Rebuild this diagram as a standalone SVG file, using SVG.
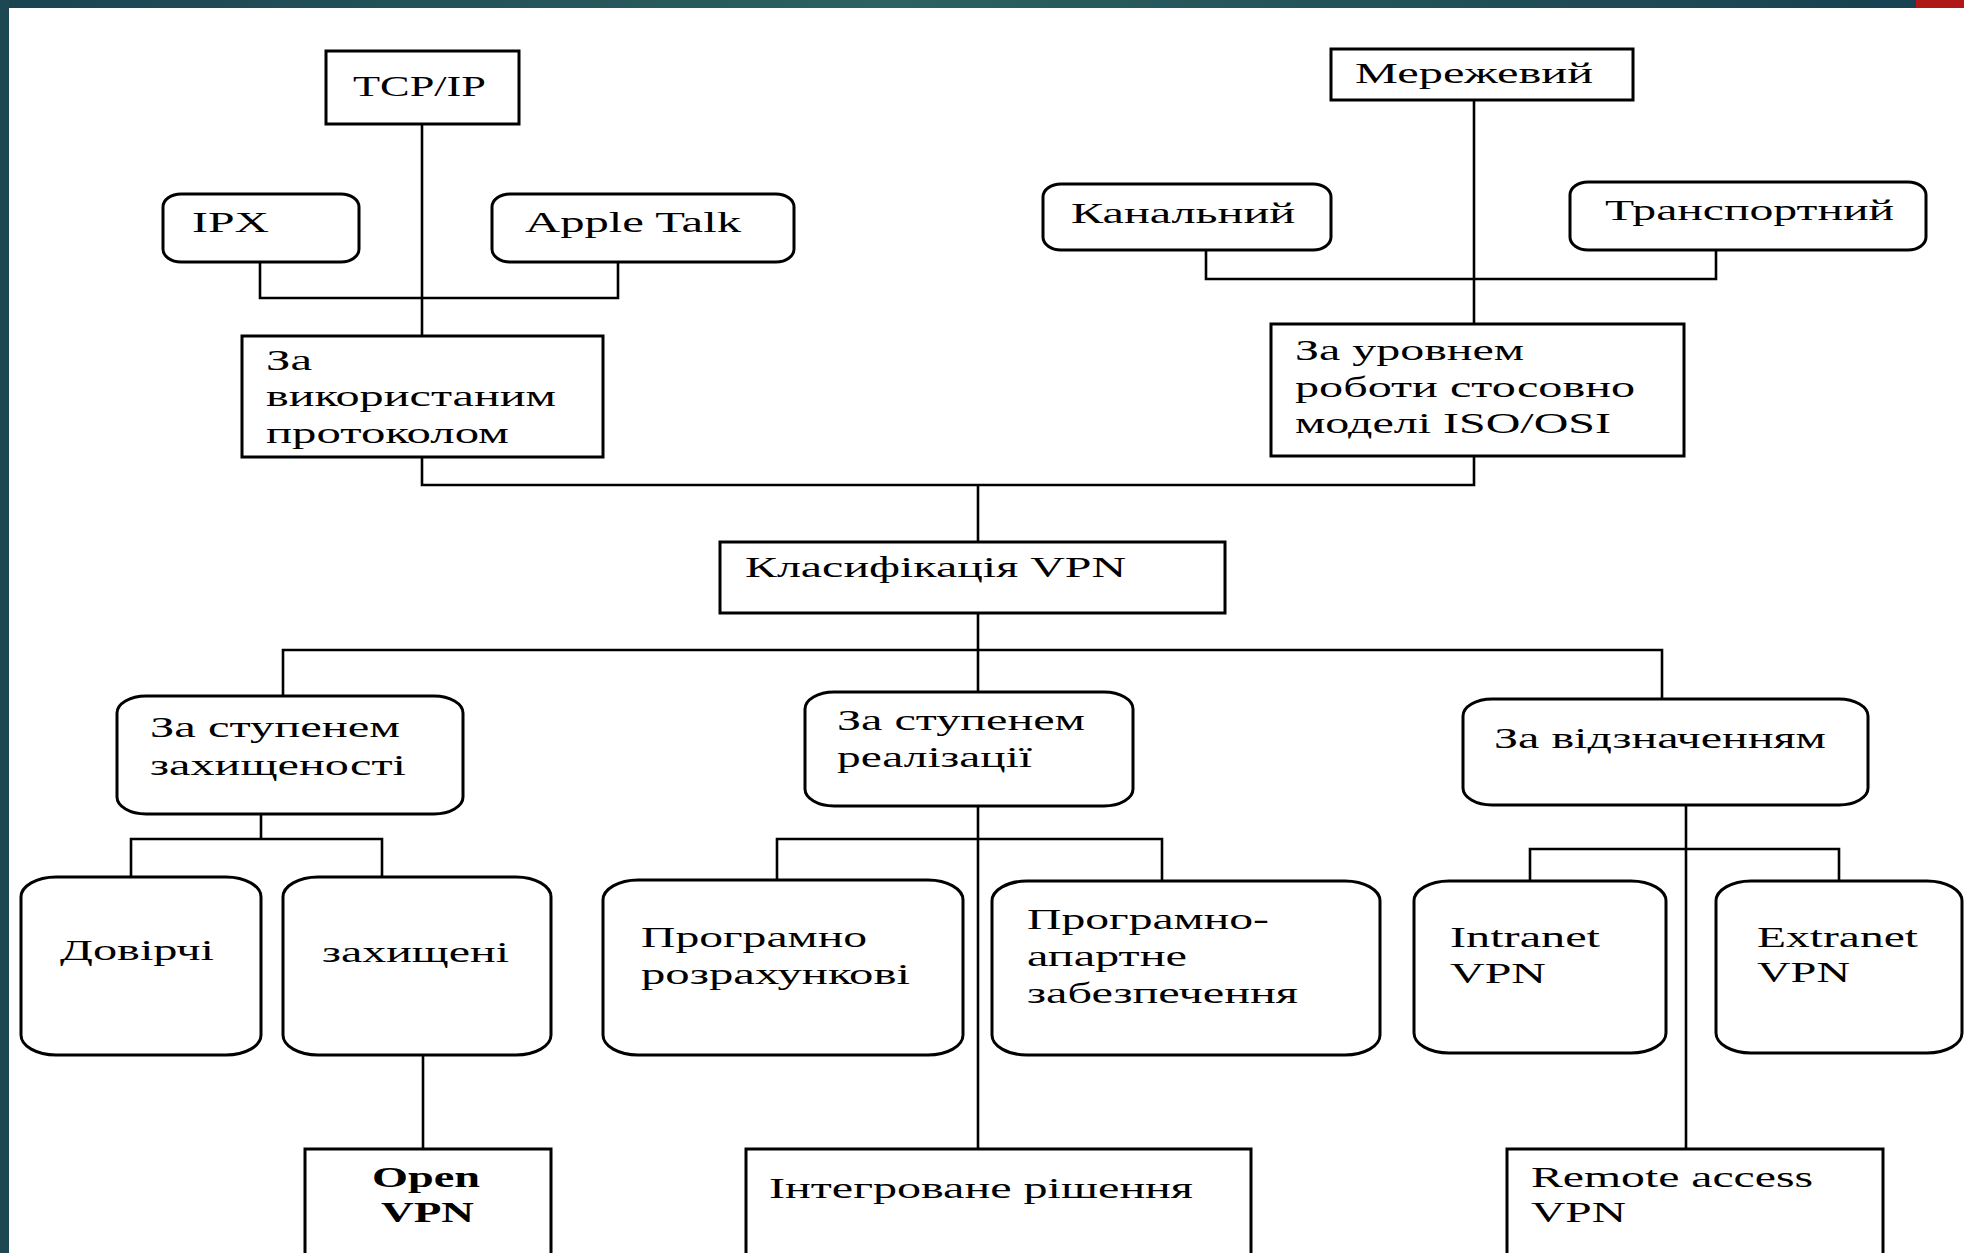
<svg xmlns="http://www.w3.org/2000/svg" width="1964" height="1253" viewBox="0 0 1964 1253">
<defs>
<linearGradient id="bar" x1="0" y1="0" x2="1" y2="0">
<stop offset="0" stop-color="#1a4352"/>
<stop offset="0.45" stop-color="#2c625f"/>
<stop offset="1" stop-color="#173f50"/>
</linearGradient>
<style>
.box{fill:#fff;stroke:#000;stroke-width:3}
.c{fill:none;stroke:#000;stroke-width:2.6}
.t{font-family:"Liberation Serif","Times New Roman",serif;font-size:30px;fill:#000}
.b{font-weight:bold}
</style>
</defs>
<rect x="0" y="0" width="1964" height="1253" fill="#fff"/>
<rect x="0" y="0" width="1964" height="8" fill="url(#bar)"/>
<rect x="1916" y="0" width="48" height="8" fill="#b01818"/>
<rect x="0" y="0" width="9" height="1253" fill="#1c4753"/>

<g id="connectors">
<path class="c" d="M422 124V336"/>
<path class="c" d="M260 262V298H618V262"/>
<path class="c" d="M422 457V485H1474V456"/>
<path class="c" d="M1474 100V324"/>
<path class="c" d="M1206 250V279H1716V250"/>
<path class="c" d="M978 485V542"/>
<path class="c" d="M978 613V692"/>
<path class="c" d="M978 806V1149"/>
<path class="c" d="M283 696V650H1662V699"/>
<path class="c" d="M261 814V839"/>
<path class="c" d="M131 877V839H382V877"/>
<path class="c" d="M777 880V839H1162V881"/>
<path class="c" d="M423 1055V1149"/>
<path class="c" d="M1686 805V1149"/>
<path class="c" d="M1530 881V849H1839V881"/>
</g>

<g id="tcpip"><rect class="box" x="326" y="51" width="193" height="73"/>
<text class="t" x="353" y="96" textLength="133" lengthAdjust="spacingAndGlyphs">TCP/IP</text></g>
<g id="ipx"><rect class="box" x="163" y="194" width="196" height="68" rx="18" ry="13"/>
<text class="t" x="192" y="232" textLength="77" lengthAdjust="spacingAndGlyphs">IPX</text></g>
<g id="appletalk"><rect class="box" x="492" y="194" width="302" height="68" rx="18" ry="13"/>
<text class="t" x="525" y="232" textLength="216" lengthAdjust="spacingAndGlyphs">Apple Talk</text></g>
<g id="protocol"><rect class="box" x="242" y="336" width="361" height="121"/>
<text class="t" x="266" y="370" textLength="46" lengthAdjust="spacingAndGlyphs">За</text>
<text class="t" x="266" y="406" textLength="290" lengthAdjust="spacingAndGlyphs">використаним</text>
<text class="t" x="266" y="443" textLength="243" lengthAdjust="spacingAndGlyphs">протоколом</text></g>

<g id="merezhevyi"><rect class="box" x="1331" y="49" width="302" height="51"/>
<text class="t" x="1355" y="83" textLength="238" lengthAdjust="spacingAndGlyphs">Мережевий</text></g>
<g id="kanalnyi"><rect class="box" x="1043" y="184" width="288" height="66" rx="18" ry="13"/>
<text class="t" x="1071" y="223" textLength="224" lengthAdjust="spacingAndGlyphs">Канальний</text></g>
<g id="transportnyi"><rect class="box" x="1570" y="182" width="356" height="68" rx="18" ry="13"/>
<text class="t" x="1605" y="220" textLength="289" lengthAdjust="spacingAndGlyphs">Транспортний</text></g>
<g id="isoosi"><rect class="box" x="1271" y="324" width="413" height="132"/>
<text class="t" x="1295" y="360" textLength="229" lengthAdjust="spacingAndGlyphs">За уровнем</text>
<text class="t" x="1295" y="397" textLength="340" lengthAdjust="spacingAndGlyphs">роботи стосовно</text>
<text class="t" x="1295" y="433" textLength="316" lengthAdjust="spacingAndGlyphs">моделі ISO/OSI</text></g>

<g id="klasyfikatsia"><rect class="box" x="720" y="542" width="505" height="71"/>
<text class="t" x="745" y="577" textLength="381" lengthAdjust="spacingAndGlyphs">Класифікація VPN</text></g>

<g id="zakhyshchenosti"><rect class="box" x="117" y="696" width="346" height="118" rx="29" ry="17"/>
<text class="t" x="150" y="737" textLength="250" lengthAdjust="spacingAndGlyphs">За ступенем</text>
<text class="t" x="150" y="775" textLength="256" lengthAdjust="spacingAndGlyphs">захищеності</text></g>
<g id="realizatsii"><rect class="box" x="805" y="692" width="328" height="114" rx="29" ry="17"/>
<text class="t" x="837" y="730" textLength="248" lengthAdjust="spacingAndGlyphs">За ступенем</text>
<text class="t" x="837" y="767" textLength="195" lengthAdjust="spacingAndGlyphs">реалізації</text></g>
<g id="vidznachenniam"><rect class="box" x="1463" y="699" width="405" height="106" rx="29" ry="17"/>
<text class="t" x="1494" y="748" textLength="332" lengthAdjust="spacingAndGlyphs">За відзначенням</text></g>

<g id="dovirchi"><rect class="box" x="21" y="877" width="240" height="178" rx="35" ry="20"/>
<text class="t" x="60" y="960" textLength="154" lengthAdjust="spacingAndGlyphs">Довірчі</text></g>
<g id="zakhyshcheni"><rect class="box" x="283" y="877" width="268" height="178" rx="35" ry="20"/>
<text class="t" x="322" y="962" textLength="187" lengthAdjust="spacingAndGlyphs">захищені</text></g>
<g id="prog-rozrakh"><rect class="box" x="603" y="880" width="360" height="175" rx="35" ry="20"/>
<text class="t" x="641" y="947" textLength="226" lengthAdjust="spacingAndGlyphs">Програмно</text>
<text class="t" x="641" y="984" textLength="269" lengthAdjust="spacingAndGlyphs">розрахункові</text></g>
<g id="prog-apart"><rect class="box" x="992" y="881" width="388" height="174" rx="35" ry="20"/>
<text class="t" x="1027" y="929" textLength="242" lengthAdjust="spacingAndGlyphs">Програмно-</text>
<text class="t" x="1027" y="966" textLength="160" lengthAdjust="spacingAndGlyphs">апартне</text>
<text class="t" x="1027" y="1003" textLength="271" lengthAdjust="spacingAndGlyphs">забезпечення</text></g>
<g id="intranet"><rect class="box" x="1414" y="881" width="252" height="172" rx="35" ry="20"/>
<text class="t" x="1450" y="947" textLength="150" lengthAdjust="spacingAndGlyphs">Intranet</text>
<text class="t" x="1450" y="983" textLength="96" lengthAdjust="spacingAndGlyphs">VPN</text></g>
<g id="extranet"><rect class="box" x="1716" y="881" width="246" height="172" rx="35" ry="20"/>
<text class="t" x="1757" y="947" textLength="161" lengthAdjust="spacingAndGlyphs">Extranet</text>
<text class="t" x="1757" y="982" textLength="93" lengthAdjust="spacingAndGlyphs">VPN</text></g>

<g id="openvpn"><rect class="box" x="305" y="1149" width="246" height="130"/>
<text class="t b" x="372" y="1187" textLength="108" lengthAdjust="spacingAndGlyphs">Open</text>
<text class="t b" x="381" y="1222" textLength="93" lengthAdjust="spacingAndGlyphs">VPN</text></g>
<g id="integrovane"><rect class="box" x="746" y="1149" width="505" height="130"/>
<text class="t" x="769" y="1198" textLength="424" lengthAdjust="spacingAndGlyphs">Інтегроване рішення</text></g>
<g id="remote"><rect class="box" x="1507" y="1149" width="376" height="130"/>
<text class="t" x="1531" y="1187" textLength="282" lengthAdjust="spacingAndGlyphs">Remote access</text>
<text class="t" x="1531" y="1222" textLength="95" lengthAdjust="spacingAndGlyphs">VPN</text></g>
</svg>
